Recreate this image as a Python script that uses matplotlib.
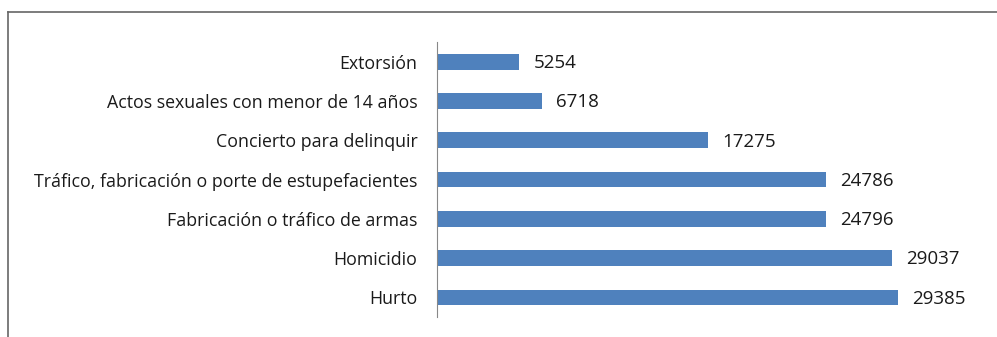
import matplotlib.pyplot as plt
from matplotlib.lines import Line2D

# categories top to bottom as shown
categorias = [
    'Extorsión',
    'Actos sexuales con menor de 14 años',
    'Concierto para delinquir',
    'Tráfico, fabricación o porte de estupefacientes',
    'Fabricación o tráfico de armas',
    'Homicidio',
    'Hurto',
]
valores = [5254, 6718, 17275, 24786, 24796, 29037, 29385]

plt.rcParams['font.family'] = ['Open Sans', 'DejaVu Sans']

fig = plt.figure(figsize=(9.97, 3.37), dpi=100)
ax = fig.add_axes([437 / 997, 1 - 317 / 337, 549 / 997, 275 / 337])

pos = list(range(len(categorias)))
ax.barh(pos, valores, height=0.40, color='#4F81BD')
ax.set_ylim(len(categorias) - 0.5, -0.5)
ax.set_xlim(0, 35000)
ax.set_yticks(pos)
ax.set_yticklabels(categorias, fontsize=12.8, color='#1a1a1a')
ax.tick_params(axis='y', length=0, pad=14)
ax.set_xticks([])

for p, v in zip(pos, valores):
    ax.annotate(str(v), (v, p), xytext=(10, -1), textcoords='offset points',
                va='center', ha='left', fontsize=13.5, color='#1a1a1a')

for s in ['top', 'right', 'bottom']:
    ax.spines[s].set_visible(False)
ax.spines['left'].set_color('#888888')

# outer chart border (top and left visible)
fig.add_artist(Line2D([8 / 997, 1], [1 - 12 / 337, 1 - 12 / 337],
                      transform=fig.transFigure, color='#666666', lw=1.2))
fig.add_artist(Line2D([8 / 997, 8 / 997], [0, 1 - 12 / 337],
                      transform=fig.transFigure, color='#666666', lw=1.2))

fig.savefig('out.png', dpi=100)
